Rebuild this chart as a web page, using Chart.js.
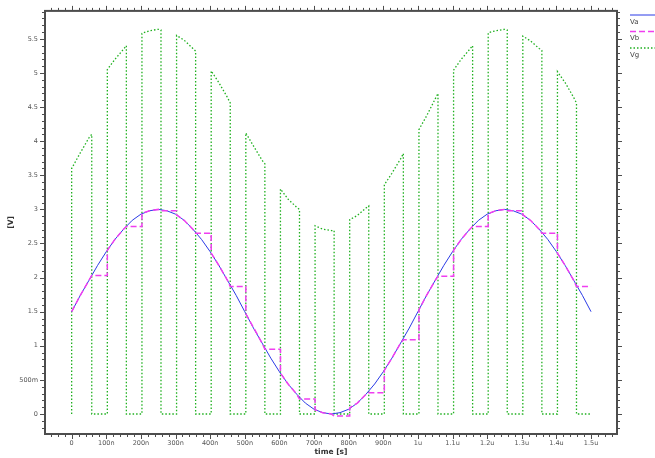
<!DOCTYPE html>
<html>
<head>
<meta charset="utf-8">
<script src="https://cdn.jsdelivr.net/npm/chart.js@4.4.1/dist/chart.umd.min.js"></script>
<style>
  html, body { margin: 0; padding: 0; background: #fff; }
</style>
</head>
<body>
<canvas id="chart" width="655" height="458"></canvas>
<script>
// time in ns, voltages in V
const vaTime = [0, 25, 50, 75, 100, 125, 150, 175, 200, 225, 250, 275, 300, 325, 350, 375, 400, 425, 450, 475,
  500, 525, 550, 575, 600, 625, 650, 675, 700, 725, 750, 775, 800, 825, 850, 875, 900, 925, 950, 975,
  1000, 1025, 1050, 1075, 1100, 1125, 1150, 1175, 1200, 1225, 1250, 1275, 1300, 1325, 1350, 1375, 1400, 1425, 1450, 1475, 1500];
const vaVolt = [1.5, 1.74, 1.96, 2.18, 2.38, 2.56, 2.71, 2.84, 2.93, 2.98, 3.0, 2.98, 2.93, 2.84, 2.71, 2.56, 2.38, 2.18, 1.96, 1.74,
  1.5, 1.26, 1.04, 0.82, 0.62, 0.44, 0.29, 0.16, 0.07, 0.02, 0.0, 0.02, 0.07, 0.16, 0.29, 0.44, 0.62, 0.82, 1.04, 1.26,
  1.5, 1.74, 1.96, 2.18, 2.38, 2.56, 2.71, 2.84, 2.93, 2.98, 3.0, 2.98, 2.93, 2.84, 2.71, 2.56, 2.38, 2.18, 1.96, 1.74, 1.5];

const vbTime = [0, 25, 50, 58, 103,
  103, 125, 150, 158, 203,
  203, 225, 250, 258, 303,
  303, 325, 350, 358, 403,
  403, 425, 450, 458, 503,
  503, 525, 550, 558, 603,
  603, 625, 650, 658, 703,
  703, 725, 750, 758, 803,
  803, 825, 850, 858, 903,
  903, 925, 950, 958, 1003,
  1003, 1025, 1050, 1058, 1103,
  1103, 1125, 1150, 1158, 1203,
  1203, 1225, 1250, 1258, 1303,
  1303, 1325, 1350, 1358, 1403,
  1403, 1425, 1450, 1458, 1500];
const vbVolt = [1.5, 1.74, 1.96, 2.03, 2.03,
  2.40, 2.56, 2.71, 2.75, 2.75,
  2.94, 2.98, 3.0, 2.98, 2.98,
  2.92, 2.84, 2.71, 2.65, 2.65,
  2.36, 2.18, 1.96, 1.87, 1.87,
  1.47, 1.27, 1.04, 0.95, 0.95,
  0.60, 0.44, 0.29, 0.22, 0.22,
  0.06, 0.02, 0.0, -0.03, -0.03,
  0.09, 0.16, 0.29, 0.31, 0.31,
  0.64, 0.82, 1.04, 1.09, 1.09,
  1.53, 1.74, 1.96, 2.02, 2.02,
  2.40, 2.56, 2.71, 2.75, 2.75,
  2.94, 2.98, 3.0, 2.98, 2.98,
  2.92, 2.84, 2.71, 2.65, 2.65,
  2.36, 2.18, 1.96, 1.87, 1.87];

const vgTime = [0, 0, 25, 50, 58, 58,
  103, 103, 125, 150, 158, 158,
  203, 203, 225, 250, 258, 258,
  303, 303, 325, 350, 358, 358,
  403, 403, 425, 450, 458, 458,
  503, 503, 525, 550, 558, 558,
  603, 603, 625, 650, 658, 658,
  703, 703, 725, 750, 758, 758,
  803, 803, 825, 850, 858, 858,
  903, 903, 925, 950, 958, 958,
  1003, 1003, 1025, 1050, 1058, 1058,
  1103, 1103, 1125, 1150, 1158, 1158,
  1203, 1203, 1225, 1250, 1258, 1258,
  1303, 1303, 1325, 1350, 1358, 1358,
  1403, 1403, 1425, 1450, 1458, 1458,
  1500];
const vgVolt = [0, 3.6, 3.83, 4.05, 4.1, 0,
  0, 5.05, 5.2, 5.35, 5.4, 0,
  0, 5.58, 5.62, 5.64, 5.63, 0,
  0, 5.55, 5.48, 5.36, 5.32, 0,
  0, 5.03, 4.86, 4.64, 4.56, 0,
  0, 4.12, 3.93, 3.72, 3.67, 0,
  0, 3.3, 3.15, 3.03, 3.0, 0,
  0, 2.76, 2.71, 2.69, 2.69, 0,
  0, 2.85, 2.91, 3.02, 3.05, 0,
  0, 3.36, 3.53, 3.74, 3.82, 0,
  0, 4.17, 4.37, 4.62, 4.7, 0,
  0, 5.04, 5.2, 5.35, 5.4, 0,
  0, 5.59, 5.62, 5.64, 5.63, 0,
  0, 5.54, 5.47, 5.36, 5.33, 0,
  0, 5.02, 4.86, 4.64, 4.56, 0,
  0];

const xTickValues = [0, 100, 200, 300, 400, 500, 600, 700, 800, 900, 1000, 1100, 1200, 1300, 1400, 1500];
const xTickLabels = ['0', '100n', '200n', '300n', '400n', '500n', '600n', '700n', '800n', '900n',
  '1u', '1.1u', '1.2u', '1.3u', '1.4u', '1.5u'];
const yTickValues = [0, 0.5, 1, 1.5, 2, 2.5, 3, 3.5, 4, 4.5, 5, 5.5];
const yTickLabels = ['0', '500m', '1', '1.5', '2', '2.5', '3', '3.5', '4', '4.5', '5', '5.5'];

const pts = (ts, vs) => ts.map((t, i) => ({ x: t, y: vs[i] }));
const AXIS = '#4d4d4d';

// frame, ticks on all four sides and the legend strip at the right
const framePlugin = {
  id: 'frame',
  afterDraw(chart) {
    const { ctx, chartArea: a, scales: { x, y } } = chart;
    ctx.save();
    ctx.strokeStyle = AXIS;
    ctx.lineWidth = 1;
    ctx.beginPath();
    for (let i = -3; i <= 78; i++) {
      const t = i * 20;
      if (t < x.min || t > x.max) continue;
      const px = Math.round(x.getPixelForValue(t)) + 0.5;
      const len = i % 5 === 0 ? 5 : 3;
      ctx.moveTo(px, a.bottom); ctx.lineTo(px, a.bottom + len);
      ctx.moveTo(px, a.top); ctx.lineTo(px, a.top - len);
    }
    for (let i = -2; i <= 59; i++) {
      const v = i / 10;
      if (v < y.min || v > y.max) continue;
      const py = Math.round(y.getPixelForValue(v)) + 0.5;
      const len = i % 5 === 0 ? 5 : 3;
      ctx.moveTo(a.left, py); ctx.lineTo(a.left - len, py);
      ctx.moveTo(a.right, py); ctx.lineTo(a.right + len, py);
    }
    ctx.stroke();
    ctx.lineWidth = 2;
    ctx.strokeRect(a.left, a.top, a.right - a.left, a.bottom - a.top);

    // legend
    ctx.font = '7px "DejaVu Sans"';
    ctx.textBaseline = 'middle';
    ctx.textAlign = 'left';
    chart.data.datasets.forEach((ds, i) => {
      const ly = 15 + i * 16.5;
      ctx.strokeStyle = ds.borderColor;
      ctx.lineWidth = ds.borderWidth;
      ctx.setLineDash(ds.borderDash || []);
      ctx.beginPath();
      ctx.moveTo(630, ly); ctx.lineTo(656, ly);
      ctx.stroke();
      ctx.setLineDash([]);
      ctx.fillStyle = '#444';
      ctx.fillText(ds.label, 630, ly + 7);
    });
    ctx.restore();
  }
};

new Chart(document.getElementById('chart'), {
  type: 'line',
  data: {
    datasets: [
      {
        label: 'Va',
        data: pts(vaTime, vaVolt),
        borderColor: '#2b3be6',
        borderWidth: 1,
        pointRadius: 0,
        tension: 0,
        order: 1,
      },
      {
        label: 'Vb',
        data: pts(vbTime, vbVolt),
        borderColor: '#f03ef0',
        borderWidth: 1.5,
        borderDash: [6, 3],
        pointRadius: 0,
        tension: 0,
        order: 0,
      },
      {
        label: 'Vg',
        data: pts(vgTime, vgVolt),
        borderColor: '#1fb01f',
        borderWidth: 1.3,
        borderDash: [1.5, 2],
        pointRadius: 0,
        tension: 0,
        order: 2,
      },
    ],
  },
  options: {
    responsive: false,
    animation: false,
    events: [],
    layout: { padding: { top: 10, right: 38, left: 0, bottom: 0 } },
    plugins: { legend: { display: false }, tooltip: { enabled: false } },
    scales: {
      x: {
        type: 'linear',
        min: -77,
        max: 1575,
        grid: { display: false, drawTicks: false },
        border: { display: false },
        afterFit: (s) => { s.height = 24; },
        afterBuildTicks: (s) => { s.ticks = xTickValues.map((v) => ({ value: v })); },
        ticks: {
          autoSkip: false,
          maxRotation: 0,
          padding: 5,
          color: '#555',
          font: { family: 'DejaVu Sans', size: 6.5 },
          callback: (v) => xTickLabels[xTickValues.indexOf(v)],
        },
        title: {
          display: true,
          text: 'time [s]',
          color: '#333',
          font: { family: 'DejaVu Sans', size: 7.5, weight: 'bold' },
          padding: { top: 0, bottom: 1 },
        },
      },
      y: {
        type: 'linear',
        min: -0.293,
        max: 5.91,
        grid: { display: false, drawTicks: false },
        border: { display: false },
        afterFit: (s) => { s.width = 45; },
        afterBuildTicks: (s) => { s.ticks = yTickValues.map((v) => ({ value: v })); },
        ticks: {
          autoSkip: false,
          padding: 7,
          color: '#555',
          font: { family: 'DejaVu Sans', size: 6.5 },
          callback: (v) => yTickLabels[yTickValues.indexOf(v)],
        },
        title: {
          display: true,
          text: '[V]',
          color: '#333',
          font: { family: 'DejaVu Sans', size: 7.5, weight: 'bold' },
          padding: { top: 7, bottom: 0 },
        },
      },
    },
  },
  plugins: [framePlugin],
});
</script>
</body>
</html>
